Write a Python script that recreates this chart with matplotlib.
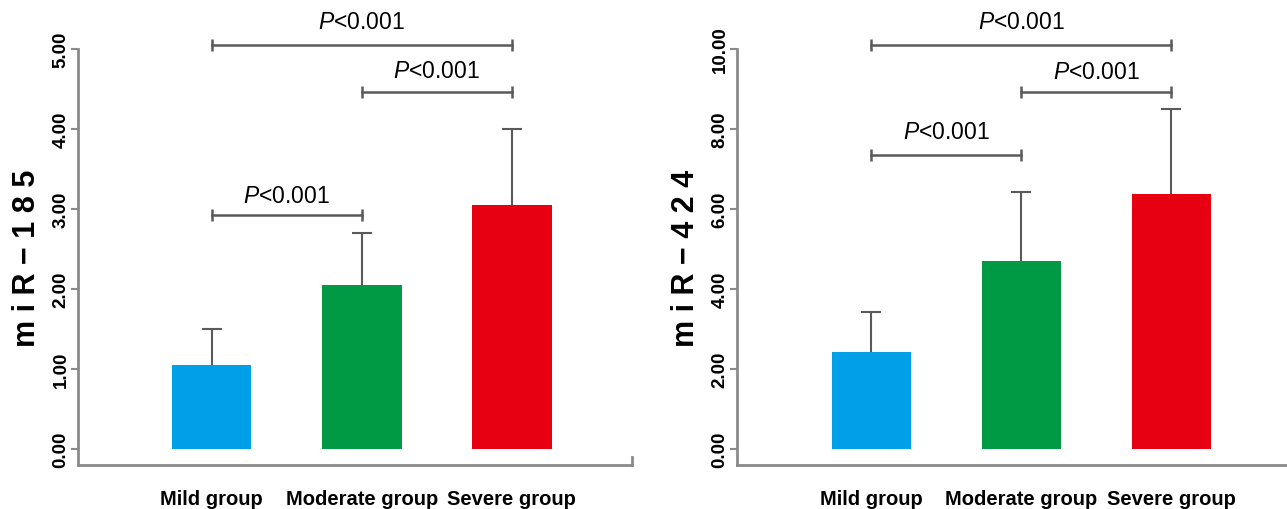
import matplotlib
matplotlib.use("Agg")
import matplotlib.pyplot as plt
import numpy as np

plt.rcParams['mathtext.fontset'] = 'custom'
plt.rcParams['mathtext.it'] = 'Liberation Sans:italic'
plt.rcParams['mathtext.rm'] = 'Liberation Sans'

categories = ["Mild group", "Moderate group", "Severe group"]
colors = ["#00A0E9", "#009944", "#E60012"]

mir185_mean = [1.05, 2.05, 3.05]
mir185_sd = [0.45, 0.65, 0.95]
mir424_mean = [2.43, 4.70, 6.38]
mir424_sd = [1.00, 1.73, 2.12]

mir185_ticks = [0, 1, 2, 3, 4, 5]
mir424_ticks = [0, 2, 4, 6, 8, 10]

# comparisons: (i, j, bracket level, text level)
mir185_comp = [(0, 2, 5.05, 5.35), (1, 2, 4.46, 4.73), (0, 1, 2.93, 3.17)]
mir424_comp = [(0, 2, 10.1, 10.7), (1, 2, 8.93, 9.45), (0, 1, 7.35, 7.93)]
p_text = r"$\mathit{P}$<0.001"

xfont = dict(family='Liberation Sans', fontsize=14.5, fontweight='bold')

W, H = 1287, 510
fig = plt.figure(figsize=(W / 100, H / 100), dpi=100)

spine_col = "#8a8a8a"
line_col = "#5a5a5a"


def panel(rect, means, sds, ticks, ylab, ymin, comps, xlim, end_tick):
    ax = fig.add_axes(rect)
    x = np.arange(len(categories))
    ax.bar(x, means, width=0.53, color=colors, zorder=2)
    tops = np.array(means) + np.array(sds)
    ax.vlines(x, means, tops, color=line_col, lw=1.5, zorder=1)
    ax.plot(x, tops, ls='none', marker='_', markersize=14.5,
            markeredgewidth=1.5, color=line_col, zorder=1)
    ax.set_xlim(*xlim)
    ax.set_ylim(ymin, ticks[-1])
    for s in ['top', 'right']:
        ax.spines[s].set_visible(False)
    for s in ['left', 'bottom']:
        ax.spines[s].set_color(spine_col)
        ax.spines[s].set_linewidth(2)
    ax.set_yticks(ticks)
    ax.set_yticklabels([f"{t:.2f}" for t in ticks], rotation=90, va='center',
                       fontsize=13.5, fontweight='bold', family='Liberation Sans')
    ax.tick_params(axis='y', length=5, width=1.5, color=spine_col, pad=1)
    ax.set_xticks(x)
    ax.set_xticklabels(categories, **xfont)
    ax.tick_params(axis='x', length=0, pad=17)
    ax.set_ylabel(ylab, fontsize=22, fontweight='bold', family='Liberation Sans', labelpad=8)
    for i, j, yb, yt in comps:
        ax.plot([x[i], x[j]], [yb, yb], color=line_col, lw=1.8, marker='|',
                markersize=9, markeredgewidth=1.8, clip_on=False, zorder=3)
        ax.text((x[i] + x[j]) / 2, yt, p_text, ha='center', va='center',
                fontsize=16.5, family='Liberation Sans', clip_on=False)
    if end_tick:
        rng = ticks[-1] - ymin
        ax.plot([xlim[1], xlim[1]], [ymin, ymin + rng * 0.02], color=spine_col,
                lw=2, clip_on=False)
    return ax


def rect(x0, x1, ytop, ybot):
    return [x0 / W, (H - ybot) / H, (x1 - x0) / W, (ybot - ytop) / H]


panel(rect(78, 632, 50, 466), mir185_mean, mir185_sd, mir185_ticks,
      "m i R − 1 8 5", -0.2, mir185_comp, (-0.89, 2.80), True)
panel(rect(737, 1287, 50, 466), mir424_mean, mir424_sd, mir424_ticks,
      "m i R − 4 2 4", -0.4, mir424_comp, (-0.895, 2.77), False)

fig.savefig("out.png", dpi=100)
